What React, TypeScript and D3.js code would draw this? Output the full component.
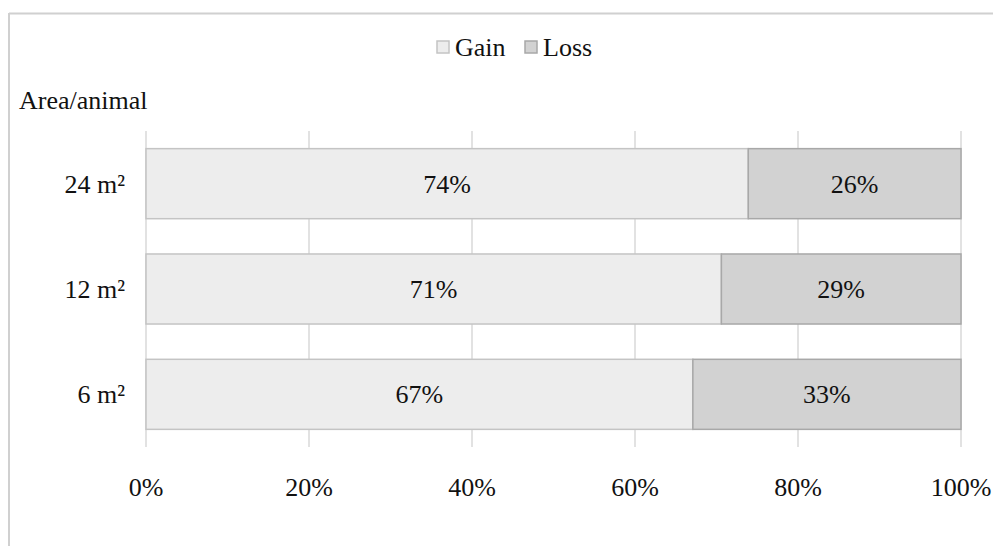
import React from "react";
import * as d3 from "d3";

const categories = ["24 m²", "12 m²", "6 m²"];
const gain = [73.9, 70.6, 67.1];
const loss = [26.1, 29.4, 32.9];
const xTicks = [0, 20, 40, 60, 80, 100];
const seriesNames = ["Gain", "Loss"];
const seriesFill = ["#ededed", "#d2d2d2"];
const seriesStroke = ["#c4c4c4", "#a8a8a8"];

const W = 1001;
const H = 546;

function T(props: any) {
  const { children, ...rest } = props;
  return (
    <text {...rest} style={{ fontFamily: "Times New Roman", fontSize: 26 }} fill="#111">
      {children}
    </text>
  );
}

export default function App() {
  const x = d3.scaleLinear().domain([0, 100]).range([146, 961]);
  const y = d3.scaleBand<string>().domain(categories).range([131, 447]).paddingInner(0.335).paddingOuter(0.1675);
  const bw = y.bandwidth();

  return (
    <svg width={W} height={H} style={{ display: "block" }}>
      <rect x={0} y={0} width={W} height={H} fill="#ffffff" />
      <line x1={1} y1={5.5} x2={W} y2={5.5} stroke="#d0d0d0" strokeWidth={2} />
      <line x1={1} y1={5} x2={1} y2={H} stroke="#d0d0d0" strokeWidth={2} />
      <g transform="translate(-8,-8)">
        {xTicks.map((t) => (
          <line key={t} x1={x(t)} x2={x(t)} y1={131} y2={447} stroke="#d9d9d9" strokeWidth={1.5} />
        ))}

        {categories.map((c, i) => {
          const y0 = y(c)!;
          const segs = [
            { s: 0, e: gain[i], v: gain[i] },
            { s: gain[i], e: gain[i] + loss[i], v: loss[i] },
          ];
          return (
            <g key={c}>
              {segs.map((sg, k) => (
                <rect key={k} x={x(sg.s)} y={y0} width={x(sg.e) - x(sg.s)} height={bw}
                  fill={seriesFill[k]} stroke={seriesStroke[k]} strokeWidth={1.5} />
              ))}
              {segs.map((sg, k) => (
                <T key={"t" + k} x={(x(sg.s) + x(sg.e)) / 2} y={y0 + bw / 2} dy="0.35em" textAnchor="middle">
                  {Math.round(sg.v)}%
                </T>
              ))}
              <T x={125} y={y0 + bw / 2} dy="0.35em" textAnchor="end">{c}</T>
            </g>
          );
        })}

        {xTicks.map((t) => (
          <T key={t} x={x(t)} y={487} dy="0.35em" textAnchor="middle">{t}%</T>
        ))}

        <T x={19} y={100} dy="0.35em">Area/animal</T>

        {seriesNames.map((n, k) => {
          const lx = [437, 525][k];
          return (
            <g key={n}>
              <rect x={lx} y={41} width={12} height={12} fill={seriesFill[k]} stroke={seriesStroke[k]} strokeWidth={1.5} />
              <T x={lx + 18} y={47} dy="0.35em">{n}</T>
            </g>
          );
        })}
      </g>
    </svg>
  );
}
